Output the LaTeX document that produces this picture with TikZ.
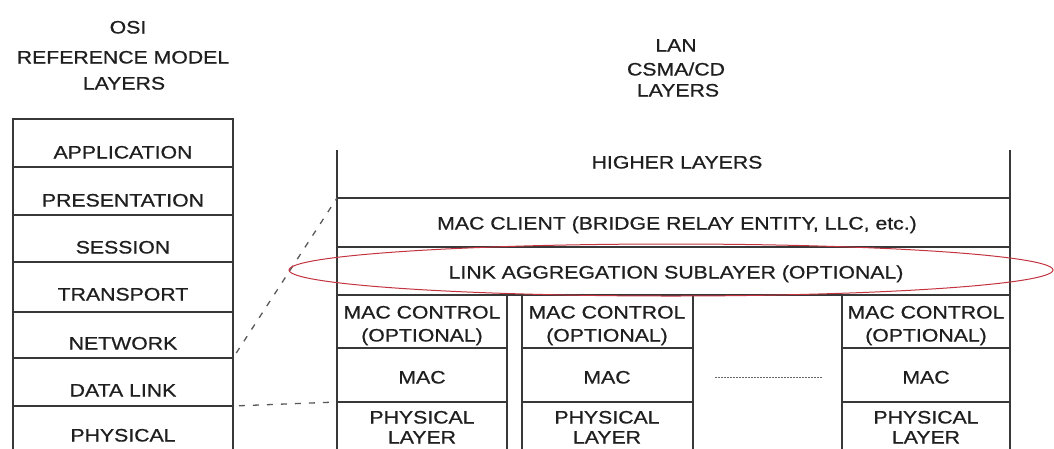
\documentclass[tikz,border=0pt]{standalone}
\usepackage{fontspec}
\usetikzlibrary{shapes.geometric}
\setmainfont{Liberation Sans}[FakeStretch=1.18,FakeBold=0.7]
\definecolor{ink}{gray}{0.12}
\definecolor{rule}{gray}{0.22}
\definecolor{ovalred}{RGB}{196,52,64}
\tikzset{
  lbl/.style={inner sep=0pt, text height=13pt, text depth=0pt, text=ink,
    font=\fontsize{18}{20}\selectfont},
  tline/.style={draw=rule, line width=1.6pt},
  dashlink/.style={draw=gray!70!black, line width=1.3pt, dash pattern=on 6pt off 8pt},
  dotsep/.style={draw=gray!80!black, line width=0.9pt, dash pattern=on 1.5pt off 1.5pt},
  oval/.style={draw=ovalred, line width=1pt}
}
\begin{document}
\begin{tikzpicture}[x=1pt,y=-1pt]
\clip (0,0) rectangle (1054,448);
\fill[white] (0,0) rectangle (1054,448);

% ---------- OSI titles ----------
\node[lbl] (osiT1) at (128,27) {OSI};
\node[lbl] (osiT2) at (123,57) {REFERENCE MODEL};
\node[lbl] (osiT3) at (124,83) {LAYERS};

% ---------- OSI stack ----------
\draw[tline] (13,460) -- (13,119) -- (233,119) -- (233,460);
\foreach \y in {167,215,262,312,358,406}
  \draw[tline] (13,\y) -- (233,\y);
\node[lbl] (app)  at (123,152) {APPLICATION};
\node[lbl] (pres) at (123,200) {PRESENTATION};
\node[lbl] (sess) at (123,247) {SESSION};
\node[lbl] (trans) at (123,294) {TRANSPORT};
\node[lbl] (net)  at (123,343) {NETWORK};
\node[lbl] (dl)   at (123,390) {DATA LINK};
\node[lbl] (phy)  at (123,435) {PHYSICAL};

% ---------- LAN titles ----------
\node[lbl] (lanT1) at (676,45) {LAN};
\node[lbl] (lanT2) at (676,69) {CSMA/CD};
\node[lbl] (lanT3) at (678,90) {LAYERS};

% ---------- LAN stack ----------
\draw[tline] (337,150) -- (337,460);
\draw[tline] (1010,150) -- (1010,460);
\foreach \y in {198,247,295}
  \draw[tline] (337,\y) -- (1010,\y);
\draw[tline] (507,295) -- (507,460);
\draw[tline] (522,295) -- (522,460);
\draw[tline] (693,295) -- (693,460);
\draw[tline] (842,295) -- (842,460);
\foreach \y in {348,402}{
  \draw[tline] (337,\y) -- (507,\y);
  \draw[tline] (522,\y) -- (693,\y);
  \draw[tline] (842,\y) -- (1010,\y);
}
\coordinate (dotsL) at (715,377);
\coordinate (dotsR) at (823,377);
\draw[dotsep] (dotsL) -- (dotsR);

\node[lbl] (higher) at (677,162) {HIGHER LAYERS};
\node[lbl] (client) at (677,223) {MAC CLIENT (BRIDGE RELAY ENTITY, LLC, etc.)};
\node[lbl] (linkagg) at (676,272) {LINK AGGREGATION SUBLAYER (OPTIONAL)};

\foreach \cx/\nm in {422/a,607/b,926/c}{
  \node[lbl] (ctl\nm) at (\cx,312) {MAC CONTROL};
  \node[lbl] (opt\nm) at (\cx,335) {(OPTIONAL)};
  \node[lbl] (mac\nm) at (\cx,377) {MAC};
  \node[lbl] (phy\nm) at (\cx,417) {PHYSICAL};
  \node[lbl] (lay\nm) at (\cx,437) {LAYER};
}

% ---------- dashed mapping lines ----------
\coordinate (netSE) at (233,358);
\coordinate (clientNW) at (337,198);
\coordinate (dlSE) at (233,406);
\coordinate (phyNW) at (337,402);
\draw[dashlink, shorten <=6pt] (netSE) -- (clientNW);
\draw[dashlink, shorten <=6pt] (dlSE) -- (phyNW);

% ---------- red oval ----------
\node[oval, ellipse, minimum width=764pt, minimum height=52pt, inner sep=0pt] (ring) at (671,270) {};
\end{tikzpicture}
\end{document}
